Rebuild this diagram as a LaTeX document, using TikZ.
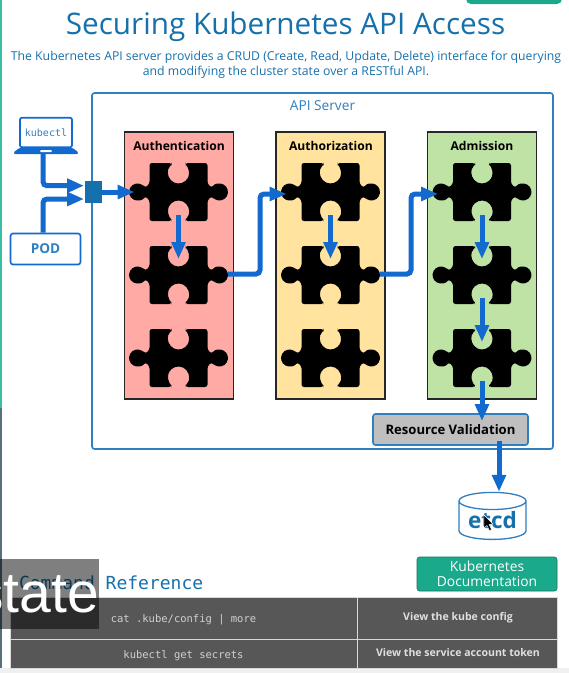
\documentclass[tikz,border=0pt]{standalone}
\usepackage{fontspec}
\setmainfont{Open Sans}
\setmonofont{DejaVu Sans Mono}
\newfontfamily\captionfont{Liberation Sans}
\usetikzlibrary{arrows.meta,shapes.geometric,positioning}
\definecolor{titleblue}{HTML}{1570AC}
\definecolor{flowblue}{HTML}{1269CE}
\definecolor{boxblue}{HTML}{2F7FC1}
\definecolor{authred}{HTML}{FFAAA5}
\definecolor{authzyellow}{HTML}{FFE39E}
\definecolor{admgreen}{HTML}{BEE3A5}
\definecolor{tealbtn}{HTML}{1AA98A}
\definecolor{tealedge}{HTML}{3BBFA3}
\definecolor{slateedge}{HTML}{566F7A}
\definecolor{tablegrey}{HTML}{575757}
\tikzset{
	flowline/.style={draw=flowblue, line width=5pt, rounded corners=4pt, -{Triangle[length=17pt,width=13.5pt]}},
	stagebox/.style={draw=black!85, line width=1.3pt, minimum width=109pt, minimum height=267pt, inner sep=0pt},
	stagelabel/.style={font=\bfseries\fontsize{12.1}{14}\selectfont, text=black},
	outline/.style={draw=boxblue, line width=1.6pt, rounded corners=2.5pt, fill=white},
	tablecell/.style={fill=tablegrey, draw=white!85!black, line width=1pt, inner sep=0pt, anchor=north west},
	celltext/.style={text=white!88!black, font=\bfseries\fontsize{10.55}{12}\selectfont},
	celltt/.style={text=white!82!black, font=\ttfamily\fontsize{10.5}{12}\selectfont},
	puzzle/.pic={
		\fill[black, rounded corners=2.5pt] (-29,-29) -- (-7,-29) -- (-7,-26.8) arc (228:-48:10.5) -- (7,-29) -- (29,-29)
			-- (29,-8) -- (33.6,-4.25) arc (210:510:8.5) -- (29,8) -- (29,29) -- (7,29) -- (7,26.8) arc (48:-228:10.5) -- (-7,29) -- (-29,29)
			-- (-29,8) -- (-33.6,4.25) arc (30:330:8.5) -- (-29,-8) -- cycle;
		\coordinate (-west) at (-44,2);
		\coordinate (-east) at (49.5,-1);
		\coordinate (-north) at (0,-16);
		\coordinate (-south) at (0,23);
	}
}
\begin{document}
\begin{tikzpicture}[x=1pt, y=-1pt]
	\useasboundingbox (0,0) rectangle (569,673);
	% page edges
	\fill[tealedge] (0,0) rectangle (2,408);
	\fill[slateedge] (0,408) rectangle (1.5,673);
	\fill[tealbtn, rounded corners=5pt] (466,-8) rectangle (562,4);
	\fill[black!6] (0,668) rectangle (569,673);
	% heading
	\node[text=titleblue, font=\fontsize{29.7}{34}\selectfont] (title) at (285.5,27) {Securing Kubernetes API Access};
	\node[text=titleblue, align=center, font=\fontsize{12.25}{14.5}\selectfont] (intro) at (286,65) {The Kubernetes API server provides a CRUD (Create, Read, Update, Delete) interface for querying\\and modifying the cluster state over a RESTful API.};
	% api server
	\node[outline, minimum width=461pt, minimum height=356pt, inner sep=0pt] (server) at (322.5,271) {};
	\node[text=boxblue, font=\fontsize{13.7}{16}\selectfont] (serverlabel) at (322.5,106) {API Server};
	\node[stagebox, fill=authred] (authbox) at (178.7,265.5) {};
	\node[stagebox, fill=authzyellow] (authzbox) at (330.5,265.5) {};
	\node[stagebox, fill=admgreen] (admbox) at (482,265.5) {};
	\node[stagelabel] at (179,146) {Authentication};
	\node[stagelabel] at (331,146) {Authorization};
	\node[stagelabel] at (482,146) {Admission};
	% puzzle pieces
	\foreach \stage/\px in {auth/178.5, authz/330.5, adm/482}{
		\pic (\stage A) at (\px,192) {puzzle};
		\pic (\stage B) at (\px,275) {puzzle};
		\pic (\stage C) at (\px,358) {puzzle};
	}
	\node[draw=boxblue, line width=1.6pt, rounded corners=2.5pt, fill=black!25, minimum width=155pt, minimum height=31pt, inner sep=0pt, font=\bfseries\fontsize{13.1}{15}\selectfont] (resval) at (450.5,429.5) {Resource Validation};
	\node[draw=boxblue, line width=1.3pt, fill=white, cylinder, shape border rotate=90, aspect=0.35, minimum width=67pt, minimum height=47pt, inner sep=0pt, text=titleblue, font=\bfseries\fontsize{22.5}{25}\selectfont] (etcd) at (492.5,520.5) {etcd};
	% clients
	\node[draw=flowblue, line width=1.7pt, rounded corners=2pt, fill=white, minimum width=52pt, minimum height=29.5pt, inner sep=0pt, text=boxblue, font=\ttfamily\fontsize{10}{12}\selectfont] (laptop) at (46,132.5) {kubectl};
	\fill[flowblue, rounded corners=1pt] (laptop.south west) -- (laptop.south east) -- (78,152) -- (78,154) -- (14,154) -- (14,152) -- cycle;
	\fill[white, rounded corners=1pt] (40,150) rectangle (52,152);
	\node[outline, draw=flowblue, minimum width=70pt, minimum height=31pt, inner sep=0pt, text=boxblue, font=\bfseries\fontsize{13.6}{16}\selectfont] (pod) at (45.5,249) {POD};
	\node[fill=titleblue, minimum width=16.5pt, minimum height=22.5pt, inner sep=0pt] (gate) at (93.7,192) {};
	\coordinate (laptopout) at (43,154);
	\coordinate (gatetop) at (84,185.7);
	\coordinate (gatelow) at (84,199);
	\coordinate (valin) at (482,421);
	\coordinate (valout) at (499,441);
	% connectors
	\draw[flowline] (laptopout) |- (gatetop);
	\draw[flowline] (pod.north -| laptopout) |- (gatelow);
	\draw[flowline] (gate.east) -- (authA-west |- gate.east);
	\draw[flowline] (authA-south) -- (authB-north);
	\draw[flowline] (authzA-south) -- (authzB-north);
	\draw[flowline] (admA-south) -- (admB-north);
	\draw[flowline] (admB-south) -- (admC-north);
	\draw[flowline] (authB-east) -- ++(32,0) |- (authzA-west);
	\draw[flowline] (authzB-east) -- ++(31,0) |- (admA-west);
	\draw[flowline] (admC-south) -- (valin);
	\draw[flowline] (valout) -- (etcd.north -| valout);
	% pointer
	\filldraw[black, draw=white, line width=.4pt] (484,515) -- (484,528) -- (487,525.5) -- (489.5,530.5) -- (491.5,529.5) -- (489,524.5) -- (493,524) -- cycle;
	% reference
	\node[anchor=west, text=titleblue, font=\ttfamily\fontsize{18}{20}\selectfont] (cmdref) at (15.5,583) {Command Reference};
	\node[fill=tealbtn, draw=tealbtn!70!black, line width=.6pt, rounded corners=2.5pt, minimum width=140pt, minimum height=34pt, inner sep=0pt, align=center, text=white, font=\fontsize{13.8}{15.5}\selectfont] (docs) at (487,574) {Kubernetes\\Documentation};
	\node[tablecell, minimum width=347pt, minimum height=42pt] (cellA) at (10,597) {};
	\node[tablecell, minimum width=200pt, minimum height=42pt] (cellB) at (357,597) {};
	\node[tablecell, minimum width=347pt, minimum height=29pt] (cellC) at (10,639) {};
	\node[tablecell, minimum width=200pt, minimum height=29pt] (cellD) at (357,639) {};
	\node[celltt] at (183.5,619.5) {cat .kube/config | more};
	\node[celltext] at (458,618) {View the kube config};
	\node[celltt] at (183.5,656) {kubectl get secrets};
	\node[celltext] at (458,653) {View the service account token};
	% caption
	\fill[black, opacity=.5] (0,559) rectangle (99,629);
	\begin{scope}
		\clip (0,540) rectangle (99,650);
		\node[anchor=base east, inner sep=0pt, text=white, font=\captionfont\fontsize{57}{57}\selectfont] (caption) at (99,612) {state};
	\end{scope}
\end{tikzpicture}
\end{document}
